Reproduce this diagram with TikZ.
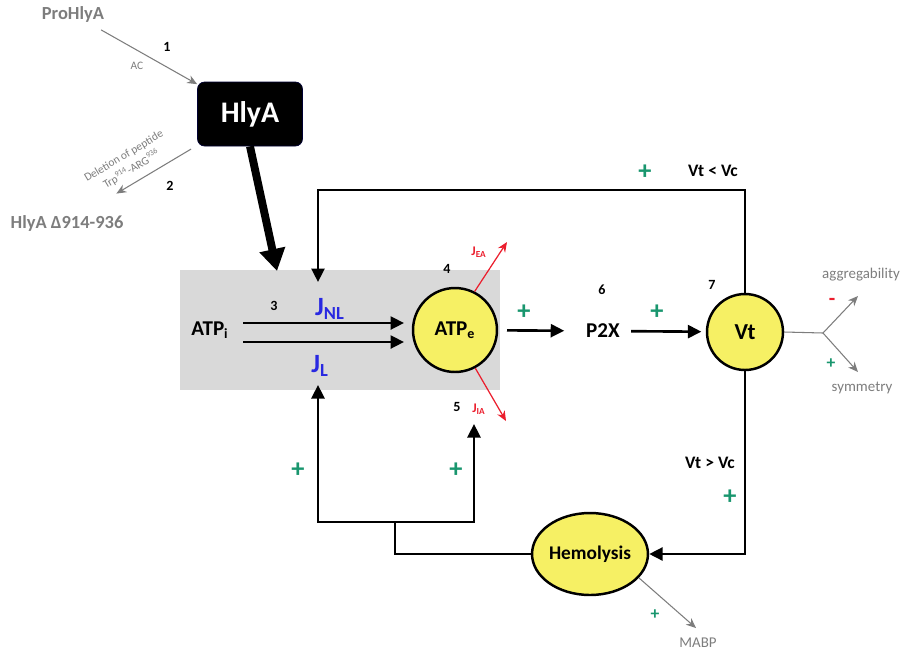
\documentclass[tikz,border=0pt]{standalone}
\usepackage{fontspec}
\setmainfont{Carlito}
\usetikzlibrary{arrows.meta, shapes.geometric}
\definecolor{plusgreen}{RGB}{25,150,110}
\definecolor{fluxblue}{RGB}{40,40,225}
\definecolor{effred}{RGB}{235,30,45}
\definecolor{boxgray}{RGB}{217,217,217}
\definecolor{poolyellow}{RGB}{246,240,100}
\definecolor{txtgray}{RGB}{125,125,125}
\tikzset{flow/.style={-{Triangle[length=2.7mm,width=2.6mm]}, line width=1.5pt},
  wire/.style={line width=1.5pt},
  bigflow/.style={-{Triangle[length=4.4mm,width=5mm]}, line width=4.5pt},
  grayflow/.style={-{Stealth[length=2mm,width=1.7mm]}, draw=txtgray, line width=0.6pt},
  redflow/.style={-{Stealth[length=2mm,width=1.7mm]}, draw=effred, line width=0.7pt},
  pool/.style={circle, draw, line width=1.4pt, fill=poolyellow, inner sep=0pt},
  num/.style={font=\bfseries\fontsize{8}{9}\selectfont},
  plus/.style={text=plusgreen, font=\bfseries\fontsize{15}{15}\selectfont},
  grayword/.style={text=txtgray, font=\bfseries\fontsize{10.5}{12}\selectfont},
  outword/.style={text=txtgray, font=\fontsize{8.5}{10}\selectfont},
  flux/.style={text=fluxblue, font=\bfseries\fontsize{15}{16}\selectfont},
  eflux/.style={text=effred, font=\bfseries\fontsize{7.5}{8}\selectfont}}
\newcommand{\pluslabel}[2]{\node[plus] at (#1) {+};}

\begin{document}
\begin{tikzpicture}[x=0.02cm,y=-0.02cm]
\useasboundingbox (0,0) rectangle (921,654);
\fill[boxgray] (180,270) rectangle (500,390);
% toxin processing
\node[grayword] (pro) at (73,14) {ProHlyA};
\node[draw=black!80!blue, fill=black, rounded corners=4pt, minimum width=2.1cm, minimum height=1.28cm, text=white, font=\bfseries\fontsize{17}{18}\selectfont] (hly) at (250,114) {HlyA};
\node[grayword] (del) at (67,223) {HlyA Δ914-936};
\draw[grayflow, shorten <=2pt] (pro) -- (hly);
\draw[grayflow, shorten <=4pt, shorten >=17pt] (hly) -- (del);
\node[num] (n1) at (167,47) {1};
\node[text=txtgray, font=\fontsize{6.5}{7}\selectfont] (ac) at (137,66) {AC};
\node[num] (n2) at (170,186) {2};
\node[text=txtgray, font=\fontsize{6.5}{8}\selectfont, rotate=31, align=center] (dl) at (128,163) {Deletion of peptide\\[1pt]Trp\textsuperscript{914}-ARG\textsuperscript{936}};
\coordinate (entry) at (277,271);
\draw[bigflow] (hly.south) -- (entry);
% ATP release
\node[font=\bfseries\fontsize{12}{13}\selectfont] (atpi) at (210,330) {ATP\textsubscript{i}};
\node[pool, minimum size=1.68cm, font=\bfseries\fontsize{12}{13}\selectfont] (atpe) at (455,330) {ATP\textsubscript{e}};
\node[num] (n3) at (274,306) {3};
\node[flux] (jnl) at (330,309) {J\textsubscript{NL}};
\node[flux] (jl) at (320,366) {J\textsubscript{L}};
\coordinate (upA) at (243,323);
\coordinate (upB) at (404,323);
\coordinate (loA) at (243,342);
\coordinate (loB) at (404,342);
\draw[flow] (upA) -- (upB);
\draw[flow] (loA) -- (loB);
\node[num] (n4) at (447,269) {4};
\node[eflux] (jea) at (479,252) {J\textsubscript{EA}};
\node[eflux] (jia) at (479,409) {J\textsubscript{IA}};
\node[num] (n5) at (457,407) {5};
\coordinate (eaend) at (507,242);
\coordinate (iaend) at (506,421);
\draw[redflow] (atpe.63) -- (eaend);
\draw[redflow] (atpe.-62) -- (iaend);
% purinergic signalling
\node[font=\bfseries\fontsize{12}{13}\selectfont] (p2x) at (603,331) {P2X};
\node[num] (n6) at (602,290) {6};
\node[pool, minimum size=1.52cm, font=\bfseries\fontsize{13}{14}\selectfont] (vt) at (745,332) {Vt};
\node[num] (n7) at (712,285) {7};
\draw[flow, shorten <=5pt, shorten >=9pt] (atpe) -- (p2x);
\draw[flow, shorten <=3pt, shorten >=2.5pt] (p2x) -- (vt);
\pluslabel{524,312}{}
\pluslabel{657,312}{}
% volume outputs
\coordinate (fork) at (823,333);
\coordinate (aggend) at (858,296);
\coordinate (symend) at (858,372);
\draw[draw=txtgray, line width=0.6pt] (vt.east) -- (fork);
\draw[grayflow] (fork) -- (aggend);
\draw[grayflow] (fork) -- (symend);
\node[outword] (agg) at (861,275) {aggregability};
\node[outword] (sym) at (862,388) {symmetry};
\node[text=effred, font=\bfseries\fontsize{12}{12}\selectfont] (minus) at (832,302) {-};
\node[plus, font=\bfseries\fontsize{10}{10}\selectfont] (pl1) at (831,364) {+};
% feedback loops
\coordinate (topleft) at (318,190);
\coordinate (nlin) at (318,282);
\draw[flow] (vt.north) |- (topleft) -- (nlin);
\node[font=\bfseries\fontsize{10}{11}\selectfont] (lt) at (713,171) {Vt < Vc};
\pluslabel{645,172}{}
\node[pool, ellipse, minimum width=2.28cm, minimum height=1.64cm, font=\bfseries\fontsize{11}{12}\selectfont] (hemo) at (590,554) {Hemolysis};
\draw[flow] (vt.south) |- (hemo.east);
\node[font=\bfseries\fontsize{10}{11}\selectfont] (gt) at (710,463) {Vt > Vc};
\pluslabel{730,497}{}
\coordinate (join) at (395,522);
\coordinate (lin) at (318,385);
\coordinate (iain) at (474,424);
\draw[wire] (hemo.west) -| (join);
\draw[flow] (join) -| (lin);
\draw[flow] (join) -| (iain);
\pluslabel{298,470}{}
\pluslabel{456,470}{}
\coordinate (mabpend) at (696,628);
\draw[grayflow] (hemo.-26) -- (mabpend);
\node[plus, font=\bfseries\fontsize{10}{10}\selectfont] (pl2) at (655,615) {+};
\node[outword] (mabp) at (698,643) {MABP};
\end{tikzpicture}
\end{document}
